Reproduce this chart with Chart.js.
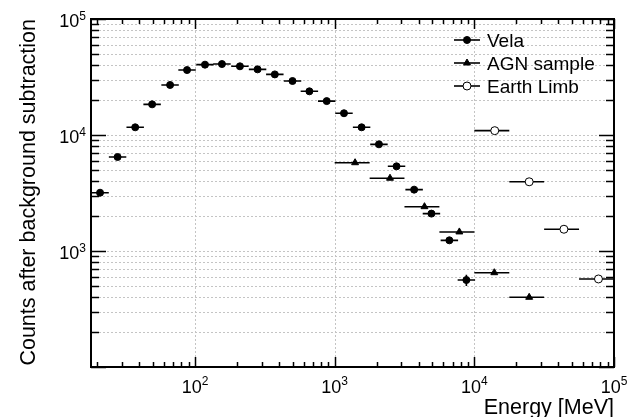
<!DOCTYPE html>
<html>
<head>
<meta charset="utf-8">
<script src="https://cdn.jsdelivr.net/npm/chart.js@4.4.1/dist/chart.umd.min.js"></script>
<style>
  html, body { margin: 0; padding: 0; background: #fff; }
  canvas { display: block; }
</style>
</head>
<body>
<canvas id="spectrum" width="629" height="417"></canvas>
<script>
// Vela: bin centres [MeV], counts and count errors
const velaEnergy = [20.9, 27.9, 37.3, 49.3, 66.3, 87.7, 117.9, 155.9, 209.7, 280.5, 372.8, 499,
                    659, 877, 1166, 1559, 2075, 2773, 3706, 4930, 6625, 8770];
const velaCounts = [3180, 6460, 11650, 18380, 26990, 36300, 40400, 40900, 39100, 36800, 33300, 29200,
                    23800, 19600, 15400, 11650, 8310, 5370, 3380, 2100, 1236, 562];
const velaErr    = [60, 90, 120, 150, 180, 210, 220, 220, 210, 200, 190, 180,
                    160, 150, 130, 120, 100, 80, 70, 60, 55, 62];
const velaBinDecades = 0.125;

// AGN sample
const agnEnergy = [1400, 2490, 4395, 7810, 13900, 24700];
const agnCounts = [5770, 4240, 2410, 1460, 650, 399];
const agnLow    = [1000, 1780, 3160, 5620, 10000, 17800];
const agnHigh   = [1780, 3160, 5620, 10000, 17800, 31600];

// Earth limb
const limbEnergy = [14000, 24700, 43800, 77400];
const limbCounts = [10900, 3950, 1540, 574];
const limbLow    = [10000, 17800, 31600, 56200];
const limbHigh   = [17800, 31600, 56200, 100000];

// labelled decades on each axis
const xLabelValues = [100, 1000, 10000, 100000];
const yLabelValues = [1000, 10000, 100000];

const FONT = '"Liberation Sans", Arial, Helvetica, sans-serif';

const halfBin = Math.pow(10, velaBinDecades / 2);
const velaData = velaEnergy.map((e, i) => ({
  x: e, y: velaCounts[i], xMin: e / halfBin, xMax: e * halfBin,
  yMin: velaCounts[i] - velaErr[i], yMax: velaCounts[i] + velaErr[i]
}));
const agnData = agnEnergy.map((e, i) => ({ x: e, y: agnCounts[i], xMin: agnLow[i], xMax: agnHigh[i] }));
const limbData = limbEnergy.map((e, i) => ({ x: e, y: limbCounts[i], xMin: limbLow[i], xMax: limbHigh[i] }));

// 1..9 x 10^n between min and max
function logTicks(min, max) {
  const out = [];
  for (let e = Math.floor(Math.log10(min)); e <= Math.ceil(Math.log10(max)); e++) {
    for (let m = 1; m <= 9; m++) {
      const v = m * Math.pow(10, e);
      if (v >= min * 0.999 && v <= max * 1.001) out.push({ value: v, major: m === 1 });
    }
  }
  return out;
}

function drawMarker(ctx, style, x, y) {
  ctx.save();
  ctx.setLineDash([]);
  ctx.lineWidth = 1;
  ctx.strokeStyle = '#000';
  ctx.beginPath();
  if (style === 'triangle') {
    const r = 4;
    for (let k = 0; k < 3; k++) {
      const a = k * 2 * Math.PI / 3;
      const px = x + Math.sin(a) * r, py = y - Math.cos(a) * r;
      k ? ctx.lineTo(px, py) : ctx.moveTo(px, py);
    }
    ctx.closePath();
    ctx.fillStyle = '#000';
  } else {
    ctx.arc(x, y, style === 'open' ? 4 : 3.5, 0, Math.PI * 2);
    ctx.fillStyle = style === 'open' ? '#fff' : '#000';
  }
  ctx.fill();
  ctx.stroke();
  ctx.restore();
}

// grid, error bars, frame, ticks and labels
const rootStyle = {
  id: 'rootStyle',
  beforeDatasetsDraw(chart) {
    const { ctx, chartArea: a, scales: { x, y } } = chart;
    ctx.save();
    ctx.strokeStyle = '#c4c4c4';
    ctx.lineWidth = 1;
    ctx.setLineDash([2, 2]);
    for (const t of logTicks(y.min, y.max)) {
      const py = Math.round(y.getPixelForValue(t.value)) + 0.5;
      ctx.beginPath(); ctx.moveTo(a.left, py); ctx.lineTo(a.right, py); ctx.stroke();
    }
    for (const v of xLabelValues) {
      const px = Math.round(x.getPixelForValue(v)) + 0.5;
      if (px <= a.left + 2 || px >= a.right - 2) continue;
      ctx.beginPath(); ctx.moveTo(px, a.top); ctx.lineTo(px, a.bottom); ctx.stroke();
    }
    ctx.restore();

    // horizontal bin widths and vertical count errors
    ctx.save();
    ctx.beginPath();
    ctx.rect(a.left, a.top, a.right - a.left, a.bottom - a.top);
    ctx.clip();
    ctx.strokeStyle = '#000';
    ctx.lineWidth = 1.6;
    chart.data.datasets.forEach(ds => {
      ds.data.forEach(p => {
        const py = y.getPixelForValue(p.y);
        const px = x.getPixelForValue(p.x);
        ctx.beginPath();
        ctx.moveTo(x.getPixelForValue(p.xMin), py);
        ctx.lineTo(x.getPixelForValue(p.xMax), py);
        if (p.yMin !== undefined) {
          ctx.moveTo(px, y.getPixelForValue(p.yMin));
          ctx.lineTo(px, y.getPixelForValue(p.yMax));
        }
        ctx.stroke();
      });
    });
    ctx.restore();
  },
  afterDraw(chart) {
    const { ctx, chartArea: a, scales: { x, y } } = chart;
    ctx.save();
    ctx.strokeStyle = '#000';
    ctx.fillStyle = '#000';

    // ticks on all four sides, pointing inwards
    ctx.lineWidth = 1.5;
    ctx.beginPath();
    for (const t of logTicks(y.min, y.max)) {
      const py = Math.round(y.getPixelForValue(t.value)) + 0.5;
      const len = t.major ? 15 : 8;
      ctx.moveTo(a.left, py); ctx.lineTo(a.left + len, py);
      ctx.moveTo(a.right, py); ctx.lineTo(a.right - len, py);
    }
    for (const t of logTicks(x.min, x.max)) {
      const px = Math.round(x.getPixelForValue(t.value)) + 0.5;
      const len = t.major ? 10 : 5;
      ctx.moveTo(px, a.bottom); ctx.lineTo(px, a.bottom - len);
      ctx.moveTo(px, a.top); ctx.lineTo(px, a.top + len);
    }
    ctx.stroke();

    // frame
    ctx.lineWidth = 2;
    ctx.strokeRect(a.left, a.top, a.right - a.left, a.bottom - a.top);

    // decade labels 10^n
    const baseFont = '18px ' + FONT;
    const supFont = '12px ' + FONT;
    ctx.textBaseline = 'alphabetic';
    ctx.textAlign = 'left';
    for (const v of yLabelValues) {
      const py = y.getPixelForValue(v);
      const exp = String(Math.round(Math.log10(v)));
      ctx.font = supFont;
      const ws = ctx.measureText(exp).width;
      ctx.fillText(exp, 86 - ws, py + 1);
      ctx.font = baseFont;
      const wb = ctx.measureText('10').width;
      ctx.fillText('10', 86 - ws - wb, py + 8);
    }
    for (const v of xLabelValues) {
      const px = x.getPixelForValue(v);
      const exp = String(Math.round(Math.log10(v)));
      ctx.font = baseFont;
      const wb = ctx.measureText('10').width;
      ctx.font = supFont;
      const ws = ctx.measureText(exp).width;
      const left = px - (wb + ws) / 2;
      ctx.font = baseFont;
      ctx.fillText('10', left, a.bottom + 26);
      ctx.font = supFont;
      ctx.fillText(exp, left + wb, a.bottom + 18);
    }

    // axis titles
    ctx.font = '21.5px ' + FONT;
    ctx.textAlign = 'right';
    ctx.fillText('Energy [MeV]', a.right, 414);
    ctx.save();
    ctx.translate(35, a.top);
    ctx.rotate(-Math.PI / 2);
    ctx.fillText('Counts after background subtraction', 0, 0);
    ctx.restore();

    // legend
    ctx.font = '19px ' + FONT;
    ctx.textAlign = 'left';
    const rows = [40, 63, 86];
    chart.data.datasets.forEach((ds, i) => {
      const cy = rows[i];
      ctx.lineWidth = 1.6;
      ctx.beginPath();
      ctx.moveTo(454, cy); ctx.lineTo(480, cy);
      ctx.stroke();
      drawMarker(ctx, ds.marker, 467, cy);
      ctx.fillStyle = '#000';
      ctx.fillText(ds.label, 487, cy + 7);
    });
    ctx.restore();
  }
};

new Chart(document.getElementById('spectrum'), {
  type: 'scatter',
  data: {
    datasets: [
      { label: 'Vela', marker: 'filled', data: velaData,
        pointStyle: 'circle', pointRadius: 3.5, pointBorderWidth: 1,
        pointBackgroundColor: '#000', pointBorderColor: '#000' },
      { label: 'AGN sample', marker: 'triangle', data: agnData,
        pointStyle: 'triangle', pointRadius: 4, pointBorderWidth: 1,
        pointBackgroundColor: '#000', pointBorderColor: '#000' },
      { label: 'Earth Limb', marker: 'open', data: limbData,
        pointStyle: 'circle', pointRadius: 4, pointBorderWidth: 1,
        pointBackgroundColor: '#fff', pointBorderColor: '#000' }
    ]
  },
  options: {
    responsive: false,
    animation: false,
    events: [],
    layout: { padding: { left: 91, right: 15, top: 19, bottom: 50 } },
    plugins: { legend: { display: false }, tooltip: { enabled: false } },
    scales: {
      x: { type: 'logarithmic', min: 18, max: 100000, display: false },
      y: { type: 'logarithmic', min: 100, max: 100000, display: false }
    }
  },
  plugins: [rootStyle]
});
</script>
</body>
</html>
